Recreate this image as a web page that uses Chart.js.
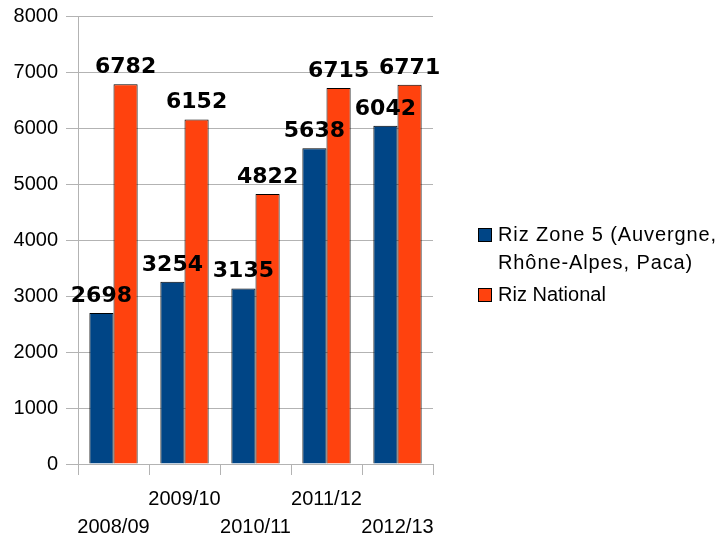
<!DOCTYPE html>
<html>
<head>
<meta charset="utf-8">
<script src="https://cdn.jsdelivr.net/npm/chart.js@4"></script>
<style>
  html, body { margin: 0; padding: 0; background: #fff; }
  #wrap { width: 720px; height: 535px; position: relative; }
</style>
</head>
<body>
<div id="wrap"><canvas id="chart"></canvas></div>
<script>
const seasons = ['2008/09', '2009/10', '2010/11', '2011/12', '2012/13'];
const zone5 = [2698, 3254, 3135, 5638, 6042];
const national = [6782, 6152, 4822, 6715, 6771];
const seriesNames = [['Riz Zone 5 (Auvergne,', 'Rhône-Alpes, Paca)'], ['Riz National']];

const canvas = document.querySelector('#chart');
const gridGray = '#b3b3b3';

// value labels above bars
const barLabels = {
  id: 'barLabels',
  afterDatasetsDraw(chart) {
    const { ctx } = chart;
    ctx.save();
    ctx.font = 'bold 22px "DejaVu Sans"';
    ctx.fillStyle = '#000';
    ctx.textAlign = 'center';
    ctx.textBaseline = 'alphabetic';
    chart.data.datasets.forEach((ds, i) => {
      chart.getDatasetMeta(i).data.forEach((bar, j) => {
        ctx.fillText(ds.data[j], bar.x, bar.y - 11);
      });
    });
    ctx.restore();
  },
};

// legend on the right, two lines for the first entry
const sideLegend = {
  id: 'sideLegend',
  afterDraw(chart) {
    const { ctx } = chart;
    ctx.save();
    ctx.font = '20px "Liberation Sans"';
    ctx.textBaseline = 'middle';
    ctx.textAlign = 'left';
    let y = 235;
    chart.data.datasets.forEach((ds, i) => {
      ctx.fillStyle = ds.backgroundColor;
      ctx.fillRect(478, y - 7, 14, 14);
      ctx.strokeStyle = '#000';
      ctx.lineWidth = 1;
      ctx.strokeRect(478.5, y - 6.5, 13, 13);
      ctx.fillStyle = '#000';
      ctx.letterSpacing = i === 0 ? '0.9px' : '0px';
      seriesNames[i].forEach((line, k) => {
        ctx.fillText(line, 498, y + k * 28);
      });
      y += seriesNames[i].length * 28 + 4;
    });
    ctx.restore();
  },
};

new Chart(canvas, {
  type: 'bar',
  data: {
    labels: seasons,
    datasets: [{
      label: 'Riz Zone 5 (Auvergne, Rhône-Alpes, Paca)',
      data: zone5,
      backgroundColor: '#004586',
      borderColor: '#000',
      borderWidth: 1,
    }, {
      label: 'Riz National',
      data: national,
      backgroundColor: '#ff420e',
      borderColor: '#000',
      borderWidth: 1,
    }],
  },
  options: {
    responsive: true,
    maintainAspectRatio: false,
    animation: false,
    layout: { padding: { top: 16, right: 287, left: 0, bottom: 0 } },
    datasets: { bar: { categoryPercentage: 0.68, barPercentage: 1 } },
    plugins: {
      legend: { display: false },
      tooltip: { enabled: false },
    },
    scales: {
      x: {
        afterFit: (scale) => { scale.height = 71; },
        grid: {
          offset: true,
          tickLength: 11,
          color: (c) => (c.index === seasons.length ? gridGray : 'rgba(0,0,0,0)'),
          tickColor: gridGray,
        },
        border: { color: gridGray },
        ticks: {
          padding: 10,
          color: '#000',
          maxRotation: 0,
          autoSkip: false,
          font: { family: 'Liberation Sans', size: 20, lineHeight: 1.4 },
          callback: (v, i) => (i % 2 === 0 ? ['', seasons[i]] : [seasons[i]]),
        },
      },
      y: {
        min: 0,
        max: 8000,
        afterFit: (scale) => {
          scale.width = 78;
          scale.paddingTop = 0;
          scale.paddingBottom = 0;
        },
        grid: { color: gridGray, tickLength: 12, tickColor: gridGray },
        border: { color: gridGray },
        ticks: {
          stepSize: 1000,
          padding: 8,
          color: '#000',
          font: { family: 'Liberation Sans', size: 20 },
          callback: (v) => String(v),
        },
      },
    },
  },
  plugins: [barLabels, sideLegend],
});
</script>
</body>
</html>
